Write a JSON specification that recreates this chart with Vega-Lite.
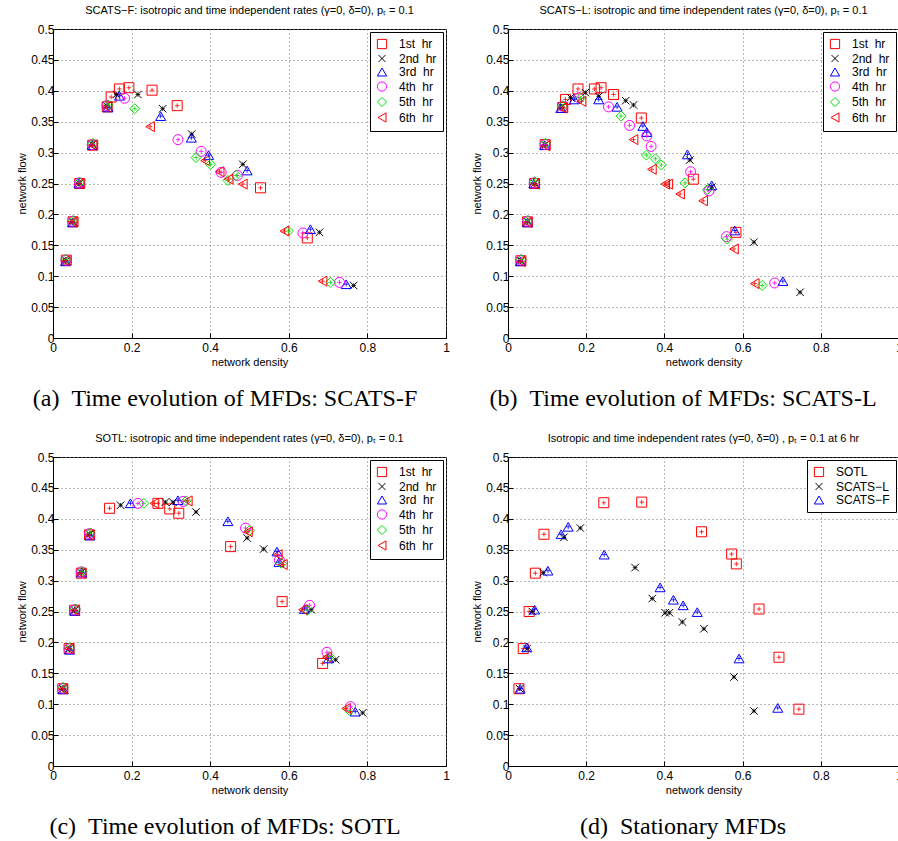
{
  "$schema": "https://vega.github.io/schema/vega-lite/v6.json",
  "background": "white",
  "padding": {"left": 16, "top": 4, "right": 0, "bottom": 0},
  "config": {
    "font": "Liberation Sans",
    "view": {"stroke": "black", "strokeWidth": 1},
    "axis": {
      "grid": true, "gridDash": [1, 3], "gridColor": "#777777", "gridWidth": 1, "gridOpacity": 1,
      "domainColor": "black", "domainWidth": 1, "tickColor": "black", "tickSize": -5, "tickWidth": 1,
      "labelFontSize": 12, "labelColor": "black", "labelFont": "Liberation Sans", "labelFlush": false, "labelOverlap": false,
      "titleFontSize": 11, "titleFontWeight": "normal", "titleColor": "black", "titleFont": "Liberation Sans",
      "labelPadding": 4, "titlePadding": 3
    },
    "axisX": {"labelPadding": 9},
    "title": {"fontSize": 11, "fontWeight": "normal", "font": "Liberation Sans", "color": "black"},
    "legend": {
      "orient": "top-right", "offset": 3, "strokeColor": "black", "fillColor": "white", "padding": 6,
      "labelFontSize": 12, "labelFont": "Liberation Sans", "labelColor": "black", "symbolStrokeWidth": 1, "symbolSize": 85,
      "rowPadding": 1.5, "labelOffset": 11
    }
  },
  "resolve": {
    "scale": {"color": "independent", "shape": "independent", "stroke": "independent"},
    "legend": {"color": "independent", "shape": "independent", "stroke": "independent"}
  },
  "datasets": {
    "a": [
      {"s": "1st\u00a0\u00a0hr", "x": 0.034, "y": 0.126}, {"s": "1st\u00a0\u00a0hr", "x": 0.051, "y": 0.188}, {"s": "1st\u00a0\u00a0hr", "x": 0.068, "y": 0.25}, {"s": "1st\u00a0\u00a0hr", "x": 0.101, "y": 0.312}, {"s": "1st\u00a0\u00a0hr", "x": 0.138, "y": 0.374}, {"s": "1st\u00a0\u00a0hr", "x": 0.148, "y": 0.39}, {"s": "1st\u00a0\u00a0hr", "x": 0.169, "y": 0.403}, {"s": "1st\u00a0\u00a0hr", "x": 0.193, "y": 0.405}, {"s": "1st\u00a0\u00a0hr", "x": 0.252, "y": 0.401}, {"s": "1st\u00a0\u00a0hr", "x": 0.316, "y": 0.376}, {"s": "1st\u00a0\u00a0hr", "x": 0.528, "y": 0.243}, {"s": "1st\u00a0\u00a0hr", "x": 0.647, "y": 0.162},
      {"s": "2nd\u00a0\u00a0hr", "x": 0.033, "y": 0.125}, {"s": "2nd\u00a0\u00a0hr", "x": 0.05, "y": 0.188}, {"s": "2nd\u00a0\u00a0hr", "x": 0.067, "y": 0.25}, {"s": "2nd\u00a0\u00a0hr", "x": 0.1, "y": 0.313}, {"s": "2nd\u00a0\u00a0hr", "x": 0.136, "y": 0.376}, {"s": "2nd\u00a0\u00a0hr", "x": 0.161, "y": 0.394}, {"s": "2nd\u00a0\u00a0hr", "x": 0.216, "y": 0.394}, {"s": "2nd\u00a0\u00a0hr", "x": 0.279, "y": 0.371}, {"s": "2nd\u00a0\u00a0hr", "x": 0.353, "y": 0.33}, {"s": "2nd\u00a0\u00a0hr", "x": 0.483, "y": 0.281}, {"s": "2nd\u00a0\u00a0hr", "x": 0.678, "y": 0.171}, {"s": "2nd\u00a0\u00a0hr", "x": 0.765, "y": 0.085},
      {"s": "3rd\u00a0\u00a0hr", "x": 0.032, "y": 0.124}, {"s": "3rd\u00a0\u00a0hr", "x": 0.05, "y": 0.187}, {"s": "3rd\u00a0\u00a0hr", "x": 0.066, "y": 0.25}, {"s": "3rd\u00a0\u00a0hr", "x": 0.1, "y": 0.312}, {"s": "3rd\u00a0\u00a0hr", "x": 0.14, "y": 0.373}, {"s": "3rd\u00a0\u00a0hr", "x": 0.169, "y": 0.392}, {"s": "3rd\u00a0\u00a0hr", "x": 0.274, "y": 0.359}, {"s": "3rd\u00a0\u00a0hr", "x": 0.352, "y": 0.324}, {"s": "3rd\u00a0\u00a0hr", "x": 0.396, "y": 0.296}, {"s": "3rd\u00a0\u00a0hr", "x": 0.494, "y": 0.271}, {"s": "3rd\u00a0\u00a0hr", "x": 0.655, "y": 0.176}, {"s": "3rd\u00a0\u00a0hr", "x": 0.746, "y": 0.087},
      {"s": "4th\u00a0\u00a0hr", "x": 0.033, "y": 0.126}, {"s": "4th\u00a0\u00a0hr", "x": 0.05, "y": 0.189}, {"s": "4th\u00a0\u00a0hr", "x": 0.067, "y": 0.251}, {"s": "4th\u00a0\u00a0hr", "x": 0.1, "y": 0.313}, {"s": "4th\u00a0\u00a0hr", "x": 0.137, "y": 0.376}, {"s": "4th\u00a0\u00a0hr", "x": 0.182, "y": 0.388}, {"s": "4th\u00a0\u00a0hr", "x": 0.318, "y": 0.321}, {"s": "4th\u00a0\u00a0hr", "x": 0.377, "y": 0.302}, {"s": "4th\u00a0\u00a0hr", "x": 0.428, "y": 0.268}, {"s": "4th\u00a0\u00a0hr", "x": 0.469, "y": 0.263}, {"s": "4th\u00a0\u00a0hr", "x": 0.636, "y": 0.17}, {"s": "4th\u00a0\u00a0hr", "x": 0.729, "y": 0.09},
      {"s": "5th\u00a0\u00a0hr", "x": 0.033, "y": 0.127}, {"s": "5th\u00a0\u00a0hr", "x": 0.051, "y": 0.19}, {"s": "5th\u00a0\u00a0hr", "x": 0.068, "y": 0.252}, {"s": "5th\u00a0\u00a0hr", "x": 0.102, "y": 0.315}, {"s": "5th\u00a0\u00a0hr", "x": 0.141, "y": 0.377}, {"s": "5th\u00a0\u00a0hr", "x": 0.208, "y": 0.371}, {"s": "5th\u00a0\u00a0hr", "x": 0.364, "y": 0.292}, {"s": "5th\u00a0\u00a0hr", "x": 0.401, "y": 0.281}, {"s": "5th\u00a0\u00a0hr", "x": 0.445, "y": 0.255}, {"s": "5th\u00a0\u00a0hr", "x": 0.466, "y": 0.263}, {"s": "5th\u00a0\u00a0hr", "x": 0.599, "y": 0.173}, {"s": "5th\u00a0\u00a0hr", "x": 0.706, "y": 0.09},
      {"s": "6th\u00a0\u00a0hr", "x": 0.032, "y": 0.125}, {"s": "6th\u00a0\u00a0hr", "x": 0.05, "y": 0.188}, {"s": "6th\u00a0\u00a0hr", "x": 0.068, "y": 0.25}, {"s": "6th\u00a0\u00a0hr", "x": 0.101, "y": 0.312}, {"s": "6th\u00a0\u00a0hr", "x": 0.138, "y": 0.374}, {"s": "6th\u00a0\u00a0hr", "x": 0.247, "y": 0.342}, {"s": "6th\u00a0\u00a0hr", "x": 0.387, "y": 0.287}, {"s": "6th\u00a0\u00a0hr", "x": 0.424, "y": 0.269}, {"s": "6th\u00a0\u00a0hr", "x": 0.447, "y": 0.257}, {"s": "6th\u00a0\u00a0hr", "x": 0.483, "y": 0.249}, {"s": "6th\u00a0\u00a0hr", "x": 0.589, "y": 0.173}, {"s": "6th\u00a0\u00a0hr", "x": 0.686, "y": 0.092}
    ],
    "b": [
      {"s": "1st\u00a0\u00a0hr", "x": 0.033, "y": 0.125}, {"s": "1st\u00a0\u00a0hr", "x": 0.05, "y": 0.188}, {"s": "1st\u00a0\u00a0hr", "x": 0.068, "y": 0.25}, {"s": "1st\u00a0\u00a0hr", "x": 0.095, "y": 0.313}, {"s": "1st\u00a0\u00a0hr", "x": 0.14, "y": 0.373}, {"s": "1st\u00a0\u00a0hr", "x": 0.147, "y": 0.386}, {"s": "1st\u00a0\u00a0hr", "x": 0.179, "y": 0.403}, {"s": "1st\u00a0\u00a0hr", "x": 0.221, "y": 0.403}, {"s": "1st\u00a0\u00a0hr", "x": 0.238, "y": 0.405}, {"s": "1st\u00a0\u00a0hr", "x": 0.27, "y": 0.394}, {"s": "1st\u00a0\u00a0hr", "x": 0.341, "y": 0.356}, {"s": "1st\u00a0\u00a0hr", "x": 0.474, "y": 0.257}, {"s": "1st\u00a0\u00a0hr", "x": 0.583, "y": 0.171},
      {"s": "2nd\u00a0\u00a0hr", "x": 0.033, "y": 0.125}, {"s": "2nd\u00a0\u00a0hr", "x": 0.05, "y": 0.188}, {"s": "2nd\u00a0\u00a0hr", "x": 0.068, "y": 0.25}, {"s": "2nd\u00a0\u00a0hr", "x": 0.095, "y": 0.313}, {"s": "2nd\u00a0\u00a0hr", "x": 0.138, "y": 0.374}, {"s": "2nd\u00a0\u00a0hr", "x": 0.16, "y": 0.389}, {"s": "2nd\u00a0\u00a0hr", "x": 0.198, "y": 0.397}, {"s": "2nd\u00a0\u00a0hr", "x": 0.232, "y": 0.391}, {"s": "2nd\u00a0\u00a0hr", "x": 0.301, "y": 0.384}, {"s": "2nd\u00a0\u00a0hr", "x": 0.321, "y": 0.377}, {"s": "2nd\u00a0\u00a0hr", "x": 0.465, "y": 0.288}, {"s": "2nd\u00a0\u00a0hr", "x": 0.521, "y": 0.244}, {"s": "2nd\u00a0\u00a0hr", "x": 0.629, "y": 0.155}, {"s": "2nd\u00a0\u00a0hr", "x": 0.747, "y": 0.074},
      {"s": "3rd\u00a0\u00a0hr", "x": 0.032, "y": 0.124}, {"s": "3rd\u00a0\u00a0hr", "x": 0.05, "y": 0.187}, {"s": "3rd\u00a0\u00a0hr", "x": 0.066, "y": 0.25}, {"s": "3rd\u00a0\u00a0hr", "x": 0.094, "y": 0.312}, {"s": "3rd\u00a0\u00a0hr", "x": 0.135, "y": 0.372}, {"s": "3rd\u00a0\u00a0hr", "x": 0.17, "y": 0.386}, {"s": "3rd\u00a0\u00a0hr", "x": 0.232, "y": 0.386}, {"s": "3rd\u00a0\u00a0hr", "x": 0.279, "y": 0.374}, {"s": "3rd\u00a0\u00a0hr", "x": 0.345, "y": 0.343}, {"s": "3rd\u00a0\u00a0hr", "x": 0.355, "y": 0.333}, {"s": "3rd\u00a0\u00a0hr", "x": 0.459, "y": 0.297}, {"s": "3rd\u00a0\u00a0hr", "x": 0.521, "y": 0.247}, {"s": "3rd\u00a0\u00a0hr", "x": 0.58, "y": 0.174}, {"s": "3rd\u00a0\u00a0hr", "x": 0.703, "y": 0.092},
      {"s": "4th\u00a0\u00a0hr", "x": 0.033, "y": 0.126}, {"s": "4th\u00a0\u00a0hr", "x": 0.05, "y": 0.189}, {"s": "4th\u00a0\u00a0hr", "x": 0.067, "y": 0.251}, {"s": "4th\u00a0\u00a0hr", "x": 0.095, "y": 0.313}, {"s": "4th\u00a0\u00a0hr", "x": 0.14, "y": 0.375}, {"s": "4th\u00a0\u00a0hr", "x": 0.181, "y": 0.389}, {"s": "4th\u00a0\u00a0hr", "x": 0.257, "y": 0.374}, {"s": "4th\u00a0\u00a0hr", "x": 0.311, "y": 0.344}, {"s": "4th\u00a0\u00a0hr", "x": 0.355, "y": 0.327}, {"s": "4th\u00a0\u00a0hr", "x": 0.366, "y": 0.31}, {"s": "4th\u00a0\u00a0hr", "x": 0.467, "y": 0.269}, {"s": "4th\u00a0\u00a0hr", "x": 0.514, "y": 0.238}, {"s": "4th\u00a0\u00a0hr", "x": 0.559, "y": 0.164}, {"s": "4th\u00a0\u00a0hr", "x": 0.682, "y": 0.089},
      {"s": "5th\u00a0\u00a0hr", "x": 0.034, "y": 0.127}, {"s": "5th\u00a0\u00a0hr", "x": 0.051, "y": 0.19}, {"s": "5th\u00a0\u00a0hr", "x": 0.068, "y": 0.253}, {"s": "5th\u00a0\u00a0hr", "x": 0.096, "y": 0.315}, {"s": "5th\u00a0\u00a0hr", "x": 0.139, "y": 0.375}, {"s": "5th\u00a0\u00a0hr", "x": 0.185, "y": 0.388}, {"s": "5th\u00a0\u00a0hr", "x": 0.289, "y": 0.359}, {"s": "5th\u00a0\u00a0hr", "x": 0.354, "y": 0.296}, {"s": "5th\u00a0\u00a0hr", "x": 0.377, "y": 0.29}, {"s": "5th\u00a0\u00a0hr", "x": 0.392, "y": 0.28}, {"s": "5th\u00a0\u00a0hr", "x": 0.453, "y": 0.251}, {"s": "5th\u00a0\u00a0hr", "x": 0.51, "y": 0.24}, {"s": "5th\u00a0\u00a0hr", "x": 0.561, "y": 0.16}, {"s": "5th\u00a0\u00a0hr", "x": 0.65, "y": 0.085},
      {"s": "6th\u00a0\u00a0hr", "x": 0.033, "y": 0.124}, {"s": "6th\u00a0\u00a0hr", "x": 0.05, "y": 0.187}, {"s": "6th\u00a0\u00a0hr", "x": 0.069, "y": 0.249}, {"s": "6th\u00a0\u00a0hr", "x": 0.096, "y": 0.311}, {"s": "6th\u00a0\u00a0hr", "x": 0.14, "y": 0.372}, {"s": "6th\u00a0\u00a0hr", "x": 0.188, "y": 0.383}, {"s": "6th\u00a0\u00a0hr", "x": 0.321, "y": 0.321}, {"s": "6th\u00a0\u00a0hr", "x": 0.368, "y": 0.273}, {"s": "6th\u00a0\u00a0hr", "x": 0.402, "y": 0.249}, {"s": "6th\u00a0\u00a0hr", "x": 0.41, "y": 0.249}, {"s": "6th\u00a0\u00a0hr", "x": 0.44, "y": 0.233}, {"s": "6th\u00a0\u00a0hr", "x": 0.499, "y": 0.222}, {"s": "6th\u00a0\u00a0hr", "x": 0.578, "y": 0.144}, {"s": "6th\u00a0\u00a0hr", "x": 0.631, "y": 0.088}
    ],
    "c": [
      {"s": "1st\u00a0\u00a0hr", "x": 0.025, "y": 0.125}, {"s": "1st\u00a0\u00a0hr", "x": 0.041, "y": 0.19}, {"s": "1st\u00a0\u00a0hr", "x": 0.055, "y": 0.252}, {"s": "1st\u00a0\u00a0hr", "x": 0.072, "y": 0.312}, {"s": "1st\u00a0\u00a0hr", "x": 0.093, "y": 0.374}, {"s": "1st\u00a0\u00a0hr", "x": 0.144, "y": 0.417}, {"s": "1st\u00a0\u00a0hr", "x": 0.267, "y": 0.425}, {"s": "1st\u00a0\u00a0hr", "x": 0.297, "y": 0.416}, {"s": "1st\u00a0\u00a0hr", "x": 0.32, "y": 0.409}, {"s": "1st\u00a0\u00a0hr", "x": 0.452, "y": 0.355}, {"s": "1st\u00a0\u00a0hr", "x": 0.583, "y": 0.266}, {"s": "1st\u00a0\u00a0hr", "x": 0.686, "y": 0.166},
      {"s": "2nd\u00a0\u00a0hr", "x": 0.025, "y": 0.125}, {"s": "2nd\u00a0\u00a0hr", "x": 0.041, "y": 0.19}, {"s": "2nd\u00a0\u00a0hr", "x": 0.055, "y": 0.252}, {"s": "2nd\u00a0\u00a0hr", "x": 0.072, "y": 0.313}, {"s": "2nd\u00a0\u00a0hr", "x": 0.093, "y": 0.375}, {"s": "2nd\u00a0\u00a0hr", "x": 0.172, "y": 0.422}, {"s": "2nd\u00a0\u00a0hr", "x": 0.286, "y": 0.427}, {"s": "2nd\u00a0\u00a0hr", "x": 0.305, "y": 0.427}, {"s": "2nd\u00a0\u00a0hr", "x": 0.364, "y": 0.411}, {"s": "2nd\u00a0\u00a0hr", "x": 0.494, "y": 0.369}, {"s": "2nd\u00a0\u00a0hr", "x": 0.536, "y": 0.351}, {"s": "2nd\u00a0\u00a0hr", "x": 0.657, "y": 0.253}, {"s": "2nd\u00a0\u00a0hr", "x": 0.719, "y": 0.172}, {"s": "2nd\u00a0\u00a0hr", "x": 0.788, "y": 0.086},
      {"s": "3rd\u00a0\u00a0hr", "x": 0.026, "y": 0.124}, {"s": "3rd\u00a0\u00a0hr", "x": 0.042, "y": 0.188}, {"s": "3rd\u00a0\u00a0hr", "x": 0.056, "y": 0.251}, {"s": "3rd\u00a0\u00a0hr", "x": 0.073, "y": 0.313}, {"s": "3rd\u00a0\u00a0hr", "x": 0.094, "y": 0.373}, {"s": "3rd\u00a0\u00a0hr", "x": 0.197, "y": 0.425}, {"s": "3rd\u00a0\u00a0hr", "x": 0.318, "y": 0.43}, {"s": "3rd\u00a0\u00a0hr", "x": 0.445, "y": 0.396}, {"s": "3rd\u00a0\u00a0hr", "x": 0.57, "y": 0.347}, {"s": "3rd\u00a0\u00a0hr", "x": 0.575, "y": 0.33}, {"s": "3rd\u00a0\u00a0hr", "x": 0.64, "y": 0.254}, {"s": "3rd\u00a0\u00a0hr", "x": 0.701, "y": 0.174}, {"s": "3rd\u00a0\u00a0hr", "x": 0.769, "y": 0.088},
      {"s": "4th\u00a0\u00a0hr", "x": 0.025, "y": 0.126}, {"s": "4th\u00a0\u00a0hr", "x": 0.041, "y": 0.19}, {"s": "4th\u00a0\u00a0hr", "x": 0.056, "y": 0.253}, {"s": "4th\u00a0\u00a0hr", "x": 0.072, "y": 0.314}, {"s": "4th\u00a0\u00a0hr", "x": 0.093, "y": 0.376}, {"s": "4th\u00a0\u00a0hr", "x": 0.216, "y": 0.425}, {"s": "4th\u00a0\u00a0hr", "x": 0.331, "y": 0.428}, {"s": "4th\u00a0\u00a0hr", "x": 0.49, "y": 0.385}, {"s": "4th\u00a0\u00a0hr", "x": 0.576, "y": 0.333}, {"s": "4th\u00a0\u00a0hr", "x": 0.653, "y": 0.26}, {"s": "4th\u00a0\u00a0hr", "x": 0.697, "y": 0.184}, {"s": "4th\u00a0\u00a0hr", "x": 0.757, "y": 0.096},
      {"s": "5th\u00a0\u00a0hr", "x": 0.026, "y": 0.127}, {"s": "5th\u00a0\u00a0hr", "x": 0.042, "y": 0.191}, {"s": "5th\u00a0\u00a0hr", "x": 0.057, "y": 0.254}, {"s": "5th\u00a0\u00a0hr", "x": 0.074, "y": 0.315}, {"s": "5th\u00a0\u00a0hr", "x": 0.095, "y": 0.377}, {"s": "5th\u00a0\u00a0hr", "x": 0.231, "y": 0.425}, {"s": "5th\u00a0\u00a0hr", "x": 0.339, "y": 0.429}, {"s": "5th\u00a0\u00a0hr", "x": 0.5, "y": 0.381}, {"s": "5th\u00a0\u00a0hr", "x": 0.581, "y": 0.328}, {"s": "5th\u00a0\u00a0hr", "x": 0.647, "y": 0.252}, {"s": "5th\u00a0\u00a0hr", "x": 0.703, "y": 0.177}, {"s": "5th\u00a0\u00a0hr", "x": 0.754, "y": 0.09},
      {"s": "6th\u00a0\u00a0hr", "x": 0.025, "y": 0.125}, {"s": "6th\u00a0\u00a0hr", "x": 0.041, "y": 0.19}, {"s": "6th\u00a0\u00a0hr", "x": 0.056, "y": 0.252}, {"s": "6th\u00a0\u00a0hr", "x": 0.072, "y": 0.312}, {"s": "6th\u00a0\u00a0hr", "x": 0.093, "y": 0.374}, {"s": "6th\u00a0\u00a0hr", "x": 0.258, "y": 0.425}, {"s": "6th\u00a0\u00a0hr", "x": 0.343, "y": 0.429}, {"s": "6th\u00a0\u00a0hr", "x": 0.496, "y": 0.379}, {"s": "6th\u00a0\u00a0hr", "x": 0.572, "y": 0.342}, {"s": "6th\u00a0\u00a0hr", "x": 0.585, "y": 0.326}, {"s": "6th\u00a0\u00a0hr", "x": 0.636, "y": 0.253}, {"s": "6th\u00a0\u00a0hr", "x": 0.697, "y": 0.176}, {"s": "6th\u00a0\u00a0hr", "x": 0.746, "y": 0.093}
    ],
    "d": [
      {"s": "SOTL", "x": 0.028, "y": 0.125}, {"s": "SOTL", "x": 0.039, "y": 0.19}, {"s": "SOTL", "x": 0.054, "y": 0.25}, {"s": "SOTL", "x": 0.07, "y": 0.312}, {"s": "SOTL", "x": 0.092, "y": 0.375}, {"s": "SOTL", "x": 0.245, "y": 0.426}, {"s": "SOTL", "x": 0.342, "y": 0.427}, {"s": "SOTL", "x": 0.495, "y": 0.379}, {"s": "SOTL", "x": 0.572, "y": 0.343}, {"s": "SOTL", "x": 0.584, "y": 0.327}, {"s": "SOTL", "x": 0.642, "y": 0.254}, {"s": "SOTL", "x": 0.693, "y": 0.176}, {"s": "SOTL", "x": 0.744, "y": 0.092},
      {"s": "SCATS\u2212L", "x": 0.03, "y": 0.125}, {"s": "SCATS\u2212L", "x": 0.049, "y": 0.19}, {"s": "SCATS\u2212L", "x": 0.062, "y": 0.25}, {"s": "SCATS\u2212L", "x": 0.09, "y": 0.313}, {"s": "SCATS\u2212L", "x": 0.143, "y": 0.37}, {"s": "SCATS\u2212L", "x": 0.185, "y": 0.385}, {"s": "SCATS\u2212L", "x": 0.325, "y": 0.321}, {"s": "SCATS\u2212L", "x": 0.369, "y": 0.271}, {"s": "SCATS\u2212L", "x": 0.402, "y": 0.248}, {"s": "SCATS\u2212L", "x": 0.413, "y": 0.248}, {"s": "SCATS\u2212L", "x": 0.446, "y": 0.233}, {"s": "SCATS\u2212L", "x": 0.501, "y": 0.222}, {"s": "SCATS\u2212L", "x": 0.578, "y": 0.144}, {"s": "SCATS\u2212L", "x": 0.629, "y": 0.089},
      {"s": "SCATS\u2212F", "x": 0.031, "y": 0.125}, {"s": "SCATS\u2212F", "x": 0.048, "y": 0.192}, {"s": "SCATS\u2212F", "x": 0.068, "y": 0.253}, {"s": "SCATS\u2212F", "x": 0.102, "y": 0.316}, {"s": "SCATS\u2212F", "x": 0.136, "y": 0.375}, {"s": "SCATS\u2212F", "x": 0.154, "y": 0.387}, {"s": "SCATS\u2212F", "x": 0.246, "y": 0.342}, {"s": "SCATS\u2212F", "x": 0.389, "y": 0.289}, {"s": "SCATS\u2212F", "x": 0.423, "y": 0.269}, {"s": "SCATS\u2212F", "x": 0.448, "y": 0.26}, {"s": "SCATS\u2212F", "x": 0.484, "y": 0.249}, {"s": "SCATS\u2212F", "x": 0.591, "y": 0.174}, {"s": "SCATS\u2212F", "x": 0.69, "y": 0.094}
    ]
  },
  "columns": 2,
  "spacing": {"row": 21, "column": 21},
  "concat": [
    {
      "title": {"text": "(a)\u00a0\u00a0Time evolution of MFDs: SCATS-F", "orient": "bottom", "anchor": "middle", "font": "Liberation Serif", "fontSize": 24, "offset": 19, "dx": -8},
      "resolve": {"scale": {"color": "independent", "shape": "independent", "stroke": "independent"}, "legend": {"color": "independent", "shape": "independent", "stroke": "independent"}},
      "vconcat": [{
        "width": 393, "height": 309,
        "title": {"text": "SCATS\u2212F: isotropic and time independent rates (\u03b3=0, \u03b4=0), p\u209c = 0.1", "frame": "group", "anchor": "middle", "offset": 7},
        "data": {"name": "a"},
        "encoding": {
          "x": {"field": "x", "type": "quantitative", "scale": {"domain": [0, 1], "nice": false}, "axis": {"values": [0, 0.2, 0.4, 0.6, 0.8, 1], "title": "network density", "format": "~g"}},
          "y": {"field": "y", "type": "quantitative", "scale": {"domain": [0, 0.5], "nice": false}, "axis": {"values": [0, 0.05, 0.1, 0.15, 0.2, 0.25, 0.3, 0.35, 0.4, 0.45, 0.5], "title": "network flow", "format": "~g"}}
        },
        "layer": [
          {"mark": {"type": "point", "filled": false, "size": 100, "strokeWidth": 1, "opacity": 1},
           "encoding": {
             "color": {"field": "s", "type": "nominal", "legend": {"title": null}, "scale": {"domain": ["1st\u00a0\u00a0hr", "2nd\u00a0\u00a0hr", "3rd\u00a0\u00a0hr", "4th\u00a0\u00a0hr", "5th\u00a0\u00a0hr", "6th\u00a0\u00a0hr"], "range": ["#ff0000", "#000000", "#0000ff", "#ff00ff", "#00e000", "#ff0000"]}},
             "shape": {"field": "s", "type": "nominal", "legend": {"title": null}, "scale": {"domain": ["1st\u00a0\u00a0hr", "2nd\u00a0\u00a0hr", "3rd\u00a0\u00a0hr", "4th\u00a0\u00a0hr", "5th\u00a0\u00a0hr", "6th\u00a0\u00a0hr"], "range": ["square", "M-0.75,-0.75L0.75,0.75M-0.75,0.75L0.75,-0.75", "triangle-up", "circle", "diamond", "triangle-left"]}}}},
          {"mark": {"type": "point", "filled": false, "size": 20, "strokeWidth": 0.8, "opacity": 1, "shape": "M-1,0L1,0M0,-1L0,1"},
           "encoding": {"stroke": {"field": "s", "type": "nominal", "legend": null, "scale": {"domain": ["1st\u00a0\u00a0hr", "2nd\u00a0\u00a0hr", "3rd\u00a0\u00a0hr", "4th\u00a0\u00a0hr", "5th\u00a0\u00a0hr", "6th\u00a0\u00a0hr"], "range": ["#ff0000", "#000000", "#0000ff", "#ff00ff", "#00e000", "#ff0000"]}}}}
        ]
      }]
    },
    {
      "title": {"text": "(b)\u00a0\u00a0Time evolution of MFDs: SCATS-L", "orient": "bottom", "anchor": "middle", "font": "Liberation Serif", "fontSize": 24, "offset": 19, "dx": -4},
      "resolve": {"scale": {"color": "independent", "shape": "independent", "stroke": "independent"}, "legend": {"color": "independent", "shape": "independent", "stroke": "independent"}},
      "vconcat": [{
        "width": 391, "height": 309,
        "title": {"text": "SCATS\u2212L: isotropic and time independent rates (\u03b3=0, \u03b4=0), p\u209c = 0.1", "frame": "group", "anchor": "middle", "offset": 7},
        "data": {"name": "b"},
        "encoding": {
          "x": {"field": "x", "type": "quantitative", "scale": {"domain": [0, 1], "nice": false}, "axis": {"values": [0, 0.2, 0.4, 0.6, 0.8, 1], "title": "network density", "format": "~g"}},
          "y": {"field": "y", "type": "quantitative", "scale": {"domain": [0, 0.5], "nice": false}, "axis": {"values": [0, 0.05, 0.1, 0.15, 0.2, 0.25, 0.3, 0.35, 0.4, 0.45, 0.5], "title": "network flow", "format": "~g"}}
        },
        "layer": [
          {"mark": {"type": "point", "filled": false, "size": 100, "strokeWidth": 1, "opacity": 1},
           "encoding": {
             "color": {"field": "s", "type": "nominal", "legend": {"title": null}, "scale": {"domain": ["1st\u00a0\u00a0hr", "2nd\u00a0\u00a0hr", "3rd\u00a0\u00a0hr", "4th\u00a0\u00a0hr", "5th\u00a0\u00a0hr", "6th\u00a0\u00a0hr"], "range": ["#ff0000", "#000000", "#0000ff", "#ff00ff", "#00e000", "#ff0000"]}},
             "shape": {"field": "s", "type": "nominal", "legend": {"title": null}, "scale": {"domain": ["1st\u00a0\u00a0hr", "2nd\u00a0\u00a0hr", "3rd\u00a0\u00a0hr", "4th\u00a0\u00a0hr", "5th\u00a0\u00a0hr", "6th\u00a0\u00a0hr"], "range": ["square", "M-0.75,-0.75L0.75,0.75M-0.75,0.75L0.75,-0.75", "triangle-up", "circle", "diamond", "triangle-left"]}}}},
          {"mark": {"type": "point", "filled": false, "size": 20, "strokeWidth": 0.8, "opacity": 1, "shape": "M-1,0L1,0M0,-1L0,1"},
           "encoding": {"stroke": {"field": "s", "type": "nominal", "legend": null, "scale": {"domain": ["1st\u00a0\u00a0hr", "2nd\u00a0\u00a0hr", "3rd\u00a0\u00a0hr", "4th\u00a0\u00a0hr", "5th\u00a0\u00a0hr", "6th\u00a0\u00a0hr"], "range": ["#ff0000", "#000000", "#0000ff", "#ff00ff", "#00e000", "#ff0000"]}}}}
        ]
      }]
    },
    {
      "title": {"text": "(c)\u00a0\u00a0Time evolution of MFDs: SOTL", "orient": "bottom", "anchor": "middle", "font": "Liberation Serif", "fontSize": 24, "offset": 19, "dx": -8},
      "resolve": {"scale": {"color": "independent", "shape": "independent", "stroke": "independent"}, "legend": {"color": "independent", "shape": "independent", "stroke": "independent"}},
      "vconcat": [{
        "width": 393, "height": 309,
        "title": {"text": "SOTL: isotropic and time independent rates (\u03b3=0, \u03b4=0), p\u209c = 0.1", "frame": "group", "anchor": "middle", "offset": 7},
        "data": {"name": "c"},
        "encoding": {
          "x": {"field": "x", "type": "quantitative", "scale": {"domain": [0, 1], "nice": false}, "axis": {"values": [0, 0.2, 0.4, 0.6, 0.8, 1], "title": "network density", "format": "~g"}},
          "y": {"field": "y", "type": "quantitative", "scale": {"domain": [0, 0.5], "nice": false}, "axis": {"values": [0, 0.05, 0.1, 0.15, 0.2, 0.25, 0.3, 0.35, 0.4, 0.45, 0.5], "title": "network flow", "format": "~g"}}
        },
        "layer": [
          {"mark": {"type": "point", "filled": false, "size": 100, "strokeWidth": 1, "opacity": 1},
           "encoding": {
             "color": {"field": "s", "type": "nominal", "legend": {"title": null}, "scale": {"domain": ["1st\u00a0\u00a0hr", "2nd\u00a0\u00a0hr", "3rd\u00a0\u00a0hr", "4th\u00a0\u00a0hr", "5th\u00a0\u00a0hr", "6th\u00a0\u00a0hr"], "range": ["#ff0000", "#000000", "#0000ff", "#ff00ff", "#00e000", "#ff0000"]}},
             "shape": {"field": "s", "type": "nominal", "legend": {"title": null}, "scale": {"domain": ["1st\u00a0\u00a0hr", "2nd\u00a0\u00a0hr", "3rd\u00a0\u00a0hr", "4th\u00a0\u00a0hr", "5th\u00a0\u00a0hr", "6th\u00a0\u00a0hr"], "range": ["square", "M-0.75,-0.75L0.75,0.75M-0.75,0.75L0.75,-0.75", "triangle-up", "circle", "diamond", "triangle-left"]}}}},
          {"mark": {"type": "point", "filled": false, "size": 20, "strokeWidth": 0.8, "opacity": 1, "shape": "M-1,0L1,0M0,-1L0,1"},
           "encoding": {"stroke": {"field": "s", "type": "nominal", "legend": null, "scale": {"domain": ["1st\u00a0\u00a0hr", "2nd\u00a0\u00a0hr", "3rd\u00a0\u00a0hr", "4th\u00a0\u00a0hr", "5th\u00a0\u00a0hr", "6th\u00a0\u00a0hr"], "range": ["#ff0000", "#000000", "#0000ff", "#ff00ff", "#00e000", "#ff0000"]}}}}
        ]
      }]
    },
    {
      "title": {"text": "(d)\u00a0\u00a0Stationary MFDs", "orient": "bottom", "anchor": "middle", "font": "Liberation Serif", "fontSize": 24, "offset": 19, "dx": -4},
      "resolve": {"scale": {"color": "independent", "shape": "independent", "stroke": "independent"}, "legend": {"color": "independent", "shape": "independent", "stroke": "independent"}},
      "vconcat": [{
        "width": 391, "height": 309,
        "title": {"text": "Isotropic and time independent rates (\u03b3=0, \u03b4=0) , p\u209c = 0.1 at 6 hr", "frame": "group", "anchor": "middle", "offset": 7},
        "data": {"name": "d"},
        "encoding": {
          "x": {"field": "x", "type": "quantitative", "scale": {"domain": [0, 1], "nice": false}, "axis": {"values": [0, 0.2, 0.4, 0.6, 0.8, 1], "title": "network density", "format": "~g"}},
          "y": {"field": "y", "type": "quantitative", "scale": {"domain": [0, 0.5], "nice": false}, "axis": {"values": [0, 0.05, 0.1, 0.15, 0.2, 0.25, 0.3, 0.35, 0.4, 0.45, 0.5], "title": "network flow", "format": "~g"}}
        },
        "layer": [
          {"mark": {"type": "point", "filled": false, "size": 100, "strokeWidth": 1, "opacity": 1},
           "encoding": {
             "color": {"field": "s", "type": "nominal", "legend": {"title": null}, "scale": {"domain": ["SOTL", "SCATS\u2212L", "SCATS\u2212F"], "range": ["#ff0000", "#000000", "#0000ff"]}},
             "shape": {"field": "s", "type": "nominal", "legend": {"title": null}, "scale": {"domain": ["SOTL", "SCATS\u2212L", "SCATS\u2212F"], "range": ["square", "M-0.75,-0.75L0.75,0.75M-0.75,0.75L0.75,-0.75", "triangle-up"]}}}},
          {"mark": {"type": "point", "filled": false, "size": 20, "strokeWidth": 0.8, "opacity": 1, "shape": "M-1,0L1,0M0,-1L0,1"},
           "encoding": {"stroke": {"field": "s", "type": "nominal", "legend": null, "scale": {"domain": ["SOTL", "SCATS\u2212L", "SCATS\u2212F"], "range": ["#ff0000", "#000000", "#0000ff"]}}}}
        ]
      }]
    }
  ]
}
